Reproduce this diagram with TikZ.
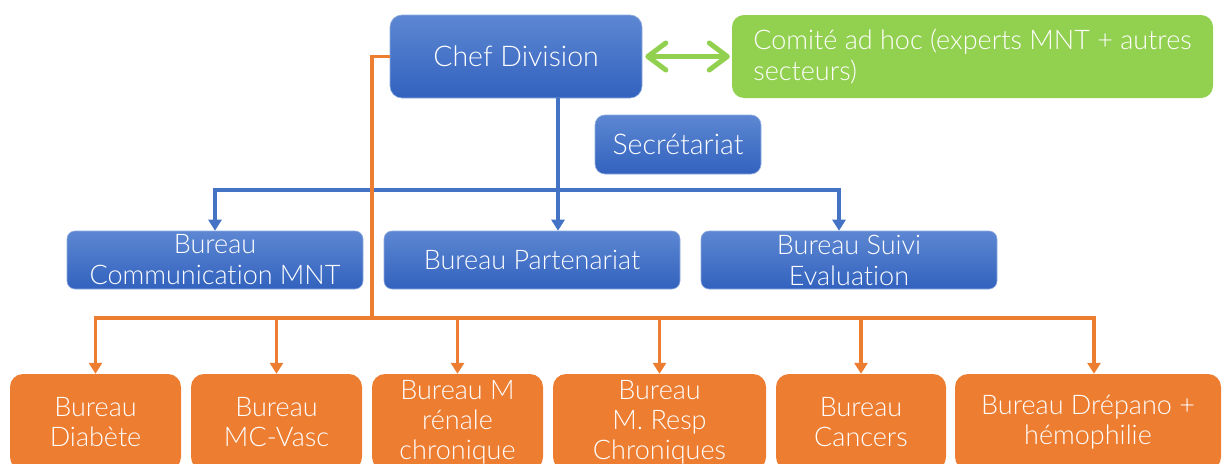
\documentclass[tikz,border=0pt]{standalone}
\usepackage{fontspec}
\setmainfont{Lato}[UprightFont = * Light, RawFeature = -liga]
\usetikzlibrary{arrows.meta}
\definecolor{bleuhaut}{RGB}{93,135,210}
\definecolor{bleubas}{RGB}{50,98,190}
\definecolor{bleutrait}{RGB}{68,114,196}
\definecolor{orangebur}{RGB}{237,125,49}
\definecolor{vertcom}{RGB}{146,208,80}
\begin{document}
\begin{tikzpicture}[x = 1pt, y = -1pt,
		boite/.style = {text = white, align = center, inner sep = 0pt, font = \fontsize{27}{31}\selectfont},
		grand/.style = {font = \fontsize{28.5}{33}\selectfont},
		bleue/.style = {boite, rounded corners = 8pt, top color = bleuhaut, bottom color = bleubas, draw = bleuhaut!70!white, line width = .6pt},
		orangee/.style = {boite, rounded corners = 13pt, fill = orangebur, minimum height = 96pt, font = \fontsize{27}{30}\selectfont},
		lienbleu/.style = {draw = bleutrait, line width = 3.5pt, -{Triangle[length = 11pt, width = 13pt]}},
		lienorange/.style = {draw = orangebur, line width = 3.5pt, -{Triangle[length = 11pt, width = 13pt]}},
		lienvert/.style = {draw = vertcom, line width = 5pt, {Straight Barb[round, length = 18pt, width = 27pt]}-{Straight Barb[round, length = 18pt, width = 27pt]}}]
	\useasboundingbox (0,0) rectangle (1222,463);
	\clip (0,0) rectangle (1222,463);
	\node[bleue, grand, rounded corners = 12pt, minimum width = 252pt, minimum height = 83pt] (chef) at (516,56.5) {Chef Division};
	\node[boite, rounded corners = 12pt, fill = vertcom, align = left, minimum width = 481pt, minimum height = 83pt] (comite) at (972.5,56.5) {Comité ad hoc (experts MNT + autres\\secteurs)};
	\node[bleue, grand, rounded corners = 10pt, minimum width = 166pt, minimum height = 59pt] (secr) at (678,144.5) {Secrétariat};
	\node[bleue, minimum width = 296pt, minimum height = 58pt] (comm) at (215,260) {Bureau\\Communication MNT};
	\node[bleue, minimum width = 296pt, minimum height = 58pt] (part) at (532,260) {Bureau Partenariat};
	\node[bleue, minimum width = 296pt, minimum height = 58pt] (suivi) at (849,260) {Bureau Suivi\\Evaluation};
	\node[orangee, minimum width = 171pt] (diab) at (95.5,422) {Bureau\\Diabète};
	\node[orangee, minimum width = 171pt] (mcv) at (276.5,422) {Bureau\\MC-Vasc};
	\node[orangee, minimum width = 171pt] (ren) at (457.5,422) {Bureau M\\rénale\\chronique};
	\node[orangee, minimum width = 213pt] (resp) at (659.5,422) {Bureau\\M. Resp\\Chroniques};
	\node[orangee, minimum width = 170pt] (canc) at (861,422) {Bureau\\Cancers};
	\node[orangee, minimum width = 266pt] (drep) at (1088,422) {Bureau Drépano +\\hémophilie};
	\draw[lienvert, shorten < = 3pt, shorten > = 2pt] (chef.east) -- (comite.west);
	\coordinate (tronc) at (558,190);
	\draw[lienbleu] (chef.south -| tronc) -- (part.north -| tronc);
	\draw[lienbleu] (tronc) -| (comm.north);
	\draw[lienbleu] (tronc) -| ([xshift = -10pt]suivi.north);
	\coordinate (branche) at (372,318);
	\draw[lienorange, -] (chef.west) -| (branche);
	\draw[lienorange] (branche) -| (diab.north);
	\draw[lienorange] (branche) -| ([xshift = 6pt]drep.north);
	\foreach \b in {mcv, ren, resp, canc}
		\draw[lienorange] (branche -| \b.north) -- (\b.north);
\end{tikzpicture}
\end{document}
